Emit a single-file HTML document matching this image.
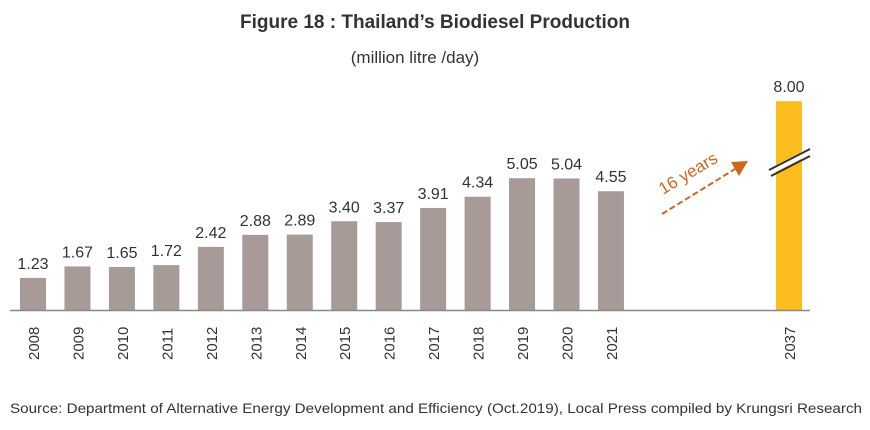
<!DOCTYPE html>
<html><head><meta charset="utf-8"><style>
body{margin:0;background:#fff;width:870px;height:425px;overflow:hidden;font-family:"Liberation Sans",sans-serif}
</style></head><body>
<svg width="870" height="425" xmlns="http://www.w3.org/2000/svg">
<text x="435" y="28" text-anchor="middle" font-size="19" font-weight="bold" fill="#333">Figure 18 : Thailand’s Biodiesel Production</text>
<text x="415" y="63" text-anchor="middle" font-size="17" fill="#333">(million litre /day)</text>
<g id="bars"></g>
<line x1="10" y1="310.5" x2="810" y2="310.5" stroke="#888" stroke-width="1.5"/>
<line x1="662" y1="214" x2="735" y2="169" stroke="#d0661e" stroke-width="2" stroke-dasharray="6,3"/>
<polygon points="748,161 731,162 739,176" fill="#d0661e"/>
<text x="0" y="0" transform="translate(663,195) rotate(-31)" font-size="17" fill="#d0661e">16 years</text>
<line x1="769" y1="172" x2="810" y2="151" stroke="#fff" stroke-width="6"/>
<line x1="769" y1="170" x2="810" y2="149" stroke="#333" stroke-width="2"/>
<line x1="771" y1="176" x2="810" y2="156" stroke="#333" stroke-width="2"/>
<text x="10" y="413" font-size="14" fill="#333" textLength="852" lengthAdjust="spacingAndGlyphs">Source: Department of Alternative Energy Development and Efficiency (Oct.2019), Local Press compiled by Krungsri Research</text>
</svg>
<script>
const years=["2008","2009","2010","2011","2012","2013","2014","2015","2016","2017","2018","2019","2020","2021","2037"];
const values=[1.23,1.67,1.65,1.72,2.42,2.88,2.89,3.40,3.37,3.91,4.34,5.05,5.04,4.55,8.00];
const labels=["1.23","1.67","1.65","1.72","2.42","2.88","2.89","3.40","3.37","3.91","4.34","5.05","5.04","4.55","8.00"];
const base=310,k=26.1,bw=26;
function xPos(i){return i<14?20+i*44.46:776;}
function yPos(v){return base-v*k;}
const g=document.getElementById('bars'),ns="http://www.w3.org/2000/svg";
years.forEach((yr,i)=>{
 const x=xPos(i),y=yPos(values[i]);
 const r=document.createElementNS(ns,'rect');
 r.setAttribute('x',x);r.setAttribute('y',y);r.setAttribute('width',bw);r.setAttribute('height',base-y);
 r.setAttribute('fill',i==14?'#fdbd1f':'#a89a97');
 
 
 g.appendChild(r);
 const t=document.createElementNS(ns,'text');
 t.setAttribute('x',x+bw/2);t.setAttribute('y',y-9);t.setAttribute('text-anchor','middle');
 t.setAttribute('font-size','16');t.setAttribute('fill','#333');t.textContent=labels[i];
 
 
 g.appendChild(t);
 const l=document.createElementNS(ns,'text');
 l.setAttribute('transform','translate('+(x+bw/2+6)+',360) rotate(-90)');
 l.setAttribute('font-size','15');l.setAttribute('fill','#333');l.textContent=yr;
 
 
 g.appendChild(l);
});
</script>
</body></html>
